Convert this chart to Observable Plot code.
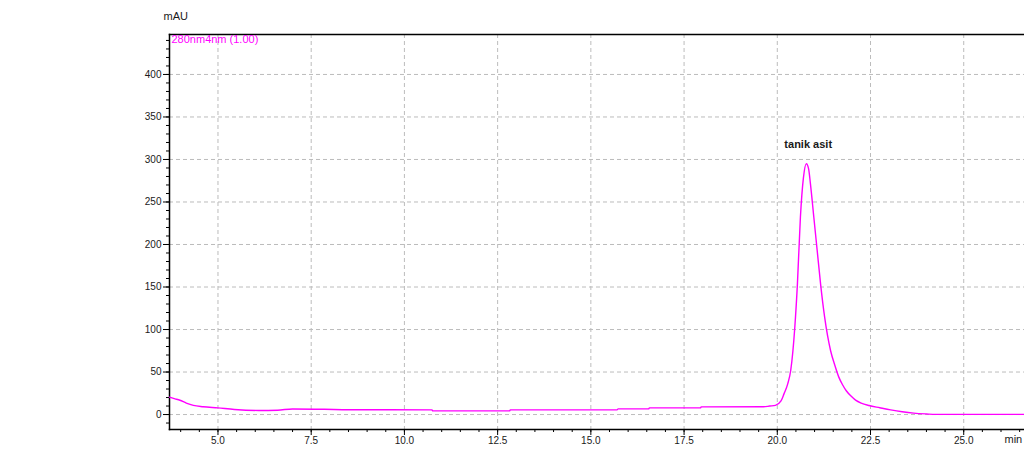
<!DOCTYPE html>
<html>
<head>
<meta charset="utf-8">
<script src="https://cdn.jsdelivr.net/npm/d3@7"></script>
<script src="https://cdn.jsdelivr.net/npm/@observablehq/plot@0.6"></script>
<style>
  html, body { margin: 0; padding: 0; background: #fff; }
  #chart svg { display: block; }
</style>
</head>
<body>
<div id="chart"></div>
<script>
// Retention time (min) and detector response (mAU) at 280 nm
const times = [
  3.70, 3.85, 3.98, 4.15, 4.34, 4.60, 5.00, 5.44, 6.09, 6.60, 7.00, 7.85, 8.50,
  10.74, 10.76, 12.82, 12.84, 15.71, 15.73, 16.55, 16.57, 17.94, 17.96, 19.63,
  19.80, 19.95, 20.10, 20.18, 20.28, 20.36, 20.47, 20.54, 20.62, 20.70, 20.78,
  20.84, 20.89, 20.98, 21.07, 21.16, 21.27, 21.43, 21.55, 21.65, 21.75, 21.85,
  21.97, 22.10, 22.25, 22.46, 22.75, 23.04, 23.35, 23.66, 24.00, 24.25, 26.70
];
const mAU = [
  20.4, 18.5, 16.8, 13.5, 10.8, 9.2, 7.8, 6.0, 4.8, 5.1, 6.6, 6.2, 5.6,
  5.5, 4.3, 4.3, 5.5, 5.7, 6.7, 6.7, 7.8, 7.8, 9.0, 9.1,
  10.0, 10.8, 16.0, 24.3, 36.0, 51.8, 102.7, 153.7, 232, 278, 295,
  289, 271, 232, 193, 154, 114.5, 75, 57, 44, 35, 28,
  22, 17, 13.5, 10.6, 8.0, 5.5, 3.3, 1.7, 0.7, 0.2, 0.2
];

// Axis ticks
const xTicks = [5, 7.5, 10, 12.5, 15, 17.5, 20, 22.5, 25];
const xMinor = d3.range(4, 27, 0.5);
const yTicks = [0, 50, 100, 150, 200, 250, 300, 350, 400];
const yMinor = d3.range(-10, 450, 10);

// Peak annotation
const peakName = "tanik asit";
const peakTime = 20.78;
const peakHeight = 295;

const channel = "280nm4nm (1.00)";
const lineColor = "#ff00ff";

const trace = times.map((t, i) => ({t, v: mAU[i]}));
const peaks = [{t: peakTime, v: peakHeight, name: peakName}];

const gridStyle = {stroke: "#bcbcbc", strokeOpacity: 1, strokeDasharray: "4,3", strokeWidth: 1};

const chart = Plot.plot({
  width: 1024,
  height: 452,
  marginLeft: 169,
  marginRight: 0,
  marginTop: 34,
  marginBottom: 23,
  x: {domain: [3.70, 26.63]},
  y: {domain: [-17.6, 447]},
  style: {fontFamily: "'Liberation Sans', Arial, sans-serif", fontSize: "10px", color: "#1a1a1a", background: "#fff"},
  marks: [
    Plot.gridX(xTicks, gridStyle),
    Plot.gridY(yTicks, gridStyle),
    Plot.axisX(xMinor, {tickSize: 3, text: null, label: null, stroke: "#000"}),
    Plot.axisX(xTicks, {tickSize: 6, tickPadding: 1, tickFormat: d => d.toFixed(1), label: null, stroke: "#000"}),
    Plot.axisY(yMinor, {tickSize: 3, text: null, label: null, stroke: "#000"}),
    Plot.axisY(yTicks, {tickSize: 6, tickPadding: 2, label: null, stroke: "#000"}),
    Plot.frame({anchor: "top", stroke: "#000", strokeWidth: 1.5}),
    Plot.frame({anchor: "left", stroke: "#000", strokeWidth: 1.5}),
    Plot.frame({anchor: "bottom", stroke: "#000", strokeWidth: 1.5}),
    Plot.line(trace, {x: "t", y: "v", stroke: lineColor, strokeWidth: 1.4, curve: "monotone-x"}),
    Plot.text(peaks, {x: "t", y: "v", text: "name", textAnchor: "start", dx: -22, dy: -19, fontWeight: "bold", fontSize: 11, fill: "#1a1a1a"}),
    Plot.text(["mAU"], {frameAnchor: "top-left", text: d => d, textAnchor: "start", dx: -6, dy: -22, fontSize: 11, fill: "#1a1a1a"}),
    Plot.text([channel], {frameAnchor: "top-left", text: d => d, textAnchor: "start", lineAnchor: "top", dx: 2, dy: 1, fontSize: 11, fill: lineColor}),
    Plot.text(["min"], {frameAnchor: "bottom-right", text: d => d, textAnchor: "start", lineAnchor: "top", dx: -20, dy: 6, fontSize: 11, fill: "#1a1a1a"})
  ]
});

document.getElementById("chart").appendChild(chart);
</script>
</body>
</html>
